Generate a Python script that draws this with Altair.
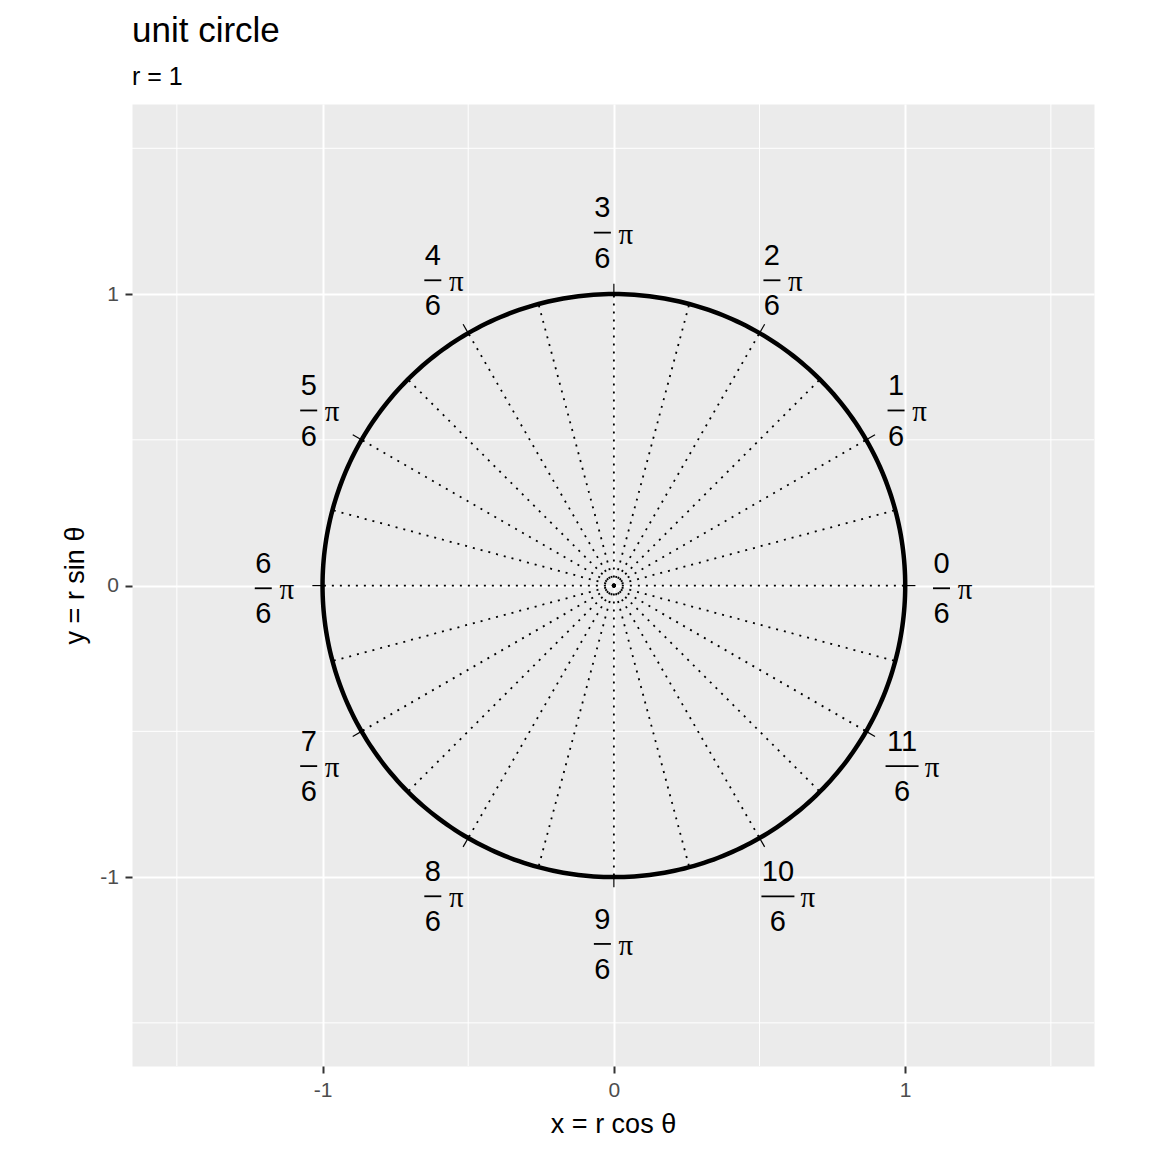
import altair as alt
import numpy as np
import pandas as pd

# ---------------- data ----------------
spoke_steps = list(range(24))            # dotted spokes every pi/12
tick_steps = list(range(12))             # labelled angles k*pi/6
numerators = [str(k) for k in tick_steps]
denominators = ["6"] * 12
major_breaks = [-1, 0, 1]
minor_breaks = [-1.5, -0.5, 0.5, 1.5]
radius = 1.0
circle_degrees = list(range(0, 361, 1))

# ---------------- style ----------------
FONT = "Liberation Sans"
SERIF = "Liberation Serif"
label_rx, label_ry = 1.164, 1.22
tick_in, tick_out = 0.99, 1.035

xs = alt.Scale(domain=[-1.654, 1.648], nice=False, zero=False)
ys = alt.Scale(domain=[-1.648, 1.652], nice=False, zero=False)

common_axis = dict(
    values=major_breaks, grid=True, gridColor="white", gridWidth=2,
    domain=False, ticks=True, tickColor="#333333", tickSize=7, tickWidth=2,
    labelColor="#4D4D4D", labelFont=FONT, labelFontSize=21,
    labelExpr="replace(datum.label, '\u2212', '-')",
    titleFont=FONT, titleFontSize=27, titleFontWeight="normal", titleColor="black",
)
xaxis = alt.Axis(title="x = r cos θ", labelPadding=6.5, titlePadding=11, **common_axis)
yaxis = alt.Axis(title="y = r sin θ", labelPadding=6.5, titlePadding=10, **common_axis)

# ---------------- frames ----------------
th = np.array(spoke_steps) * np.pi / 12
spokes = pd.DataFrame({"x0": 0.0, "y0": 0.0,
                       "x1": radius * np.cos(th), "y1": radius * np.sin(th)})

cd = np.array(circle_degrees)
circle = pd.DataFrame({"deg": cd,
                       "x": radius * np.cos(np.radians(cd)),
                       "y": radius * np.sin(np.radians(cd))})

tk = np.array(tick_steps) * np.pi / 6
ticks = pd.DataFrame({"x0": tick_in * np.cos(tk), "y0": tick_in * np.sin(tk),
                      "x1": tick_out * np.cos(tk), "y1": tick_out * np.sin(tk)})

labels = pd.DataFrame({"num": numerators, "den": denominators,
                       "cx": label_rx * np.cos(tk), "cy": label_ry * np.sin(tk)})
labels["nd"] = labels["num"].str.len()


def X(f):
    return alt.X(f, scale=xs, axis=xaxis)


def Y(f):
    return alt.Y(f, scale=ys, axis=yaxis)


minor_v = alt.Chart(pd.DataFrame({"v": minor_breaks})).mark_rule(
    color="white", strokeWidth=1).encode(x=X("v:Q"))
minor_h = alt.Chart(pd.DataFrame({"v": minor_breaks})).mark_rule(
    color="white", strokeWidth=1).encode(y=Y("v:Q"))

spoke_layer = alt.Chart(spokes).mark_rule(
    color="black", strokeWidth=1.8, strokeDash=[2, 6]).encode(
    x=X("x0:Q"), y=Y("y0:Q"), x2="x1:Q", y2="y1:Q")

circle_layer = alt.Chart(circle).mark_line(color="black", strokeWidth=4.5).encode(
    x=X("x:Q"), y=Y("y:Q"), order="deg:Q")

tick_layer = alt.Chart(ticks).mark_rule(color="black", strokeWidth=1.2).encode(
    x=X("x0:Q"), y=Y("y0:Q"), x2="x1:Q", y2="y1:Q")


def label_layers(df, frac_dx, half, pi_dx):
    base = alt.Chart(df)
    num = base.mark_text(font=FONT, fontSize=29, color="black", align="center",
                         baseline="middle", dx=frac_dx, dy=-21.7).encode(
        x=X("cx:Q"), y=Y("cy:Q"), text="num:N")
    den = base.mark_text(font=FONT, fontSize=29, color="black", align="center",
                         baseline="middle", dx=frac_dx, dy=28.8).encode(
        x=X("cx:Q"), y=Y("cy:Q"), text="den:N")
    bar = base.mark_rule(color="black", strokeWidth=1.8,
                         xOffset=frac_dx - half, x2Offset=frac_dx + half,
                         yOffset=2.7, y2Offset=2.7).encode(
        x=X("cx:Q"), x2="cx:Q", y=Y("cy:Q"), y2="cy:Q")
    pi = base.mark_text(font=SERIF, fontSize=29, color="black", align="center",
                        baseline="alphabetic", dx=pi_dx, dy=13.7).encode(
        x=X("cx:Q"), y=Y("cy:Q"), text=alt.value("π"))
    return [num, den, bar, pi]


single = labels[labels["nd"] == 1]
double = labels[labels["nd"] == 2]

chart = alt.layer(
    minor_v, minor_h, spoke_layer, circle_layer, tick_layer,
    *label_layers(single, -11.5, 8.5, 12),
    *label_layers(double, -5.5, 16.5, 24.5),
).properties(
    width=962, height=962,
    title=alt.TitleParams("unit circle", subtitle="r = 1", anchor="start", frame="group",
                          font=FONT, fontSize=35, fontWeight="normal", color="black",
                          subtitleFont=FONT, subtitleFontSize=25, subtitleColor="black",
                          subtitlePadding=16, offset=14),
    autosize=alt.AutoSizeParams(type="none"),
    padding={"left": 124, "top": 96, "right": 50, "bottom": 78},
).configure_view(fill="#EBEBEB", stroke="transparent")

chart.save("out.html", embed_options={"renderer": "svg", "actions": False})
